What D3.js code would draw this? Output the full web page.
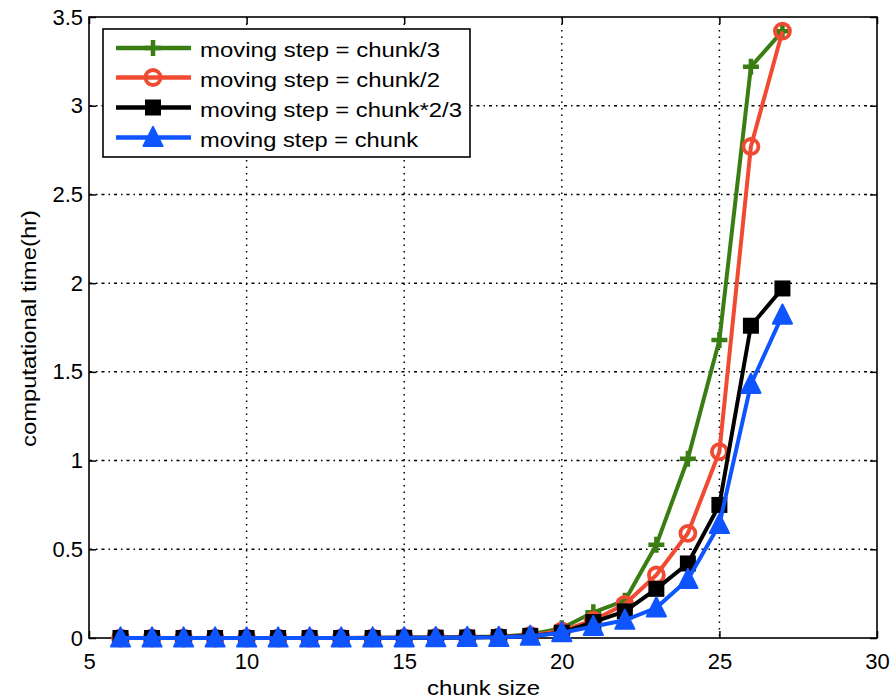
<!DOCTYPE html>
<html>
<head>
<meta charset="utf-8">
<script src="https://cdn.jsdelivr.net/npm/d3@7"></script>
<style>
  html, body { margin: 0; padding: 0; background: #fff; }
  svg { display: block; }
  text { font-family: "Liberation Sans", Arial, sans-serif; fill: #000; }
</style>
</head>
<body>
<svg id="chart" width="893" height="699"></svg>
<script>
// chunk sizes on the x axis
const chunkSizes = [6, 7, 8, 9, 10, 11, 12, 13, 14, 15, 16, 17, 18, 19, 20, 21, 22, 23, 24, 25, 26, 27];

// computational time (hr) per moving-step setting
const stepThird    = [0, 0, 0, 0, 0, 0, 0, 0, 0.001, 0.002, 0.003, 0.005, 0.008, 0.02, 0.055, 0.145, 0.21, 0.525, 1.01, 1.68, 3.22, 3.42];
const stepHalf     = [0, 0, 0, 0, 0, 0, 0, 0, 0.001, 0.002, 0.003, 0.004, 0.006, 0.015, 0.04, 0.1, 0.19, 0.355, 0.59, 1.05, 2.77, 3.42];
const stepTwoThird = [0, 0, 0, 0, 0, 0, 0, 0, 0, 0.001, 0.002, 0.003, 0.005, 0.012, 0.03, 0.09, 0.15, 0.277, 0.42, 0.75, 1.76, 1.97];
const stepFull     = [0, 0, 0, 0, 0, 0, 0, 0, 0, 0.001, 0.002, 0.003, 0.004, 0.01, 0.03, 0.065, 0.1, 0.17, 0.33, 0.64, 1.43, 1.82];

const seriesNames  = ["moving step = chunk/3", "moving step = chunk/2", "moving step = chunk*2/3", "moving step = chunk"];
const seriesColors = ["#3a7d12", "#f04b32", "#000000", "#0f55ff"];
const seriesMarkers = ["plus", "circle", "square", "triangle"];

const xTicks = [5, 10, 15, 20, 25, 30];
const yTicks = [0, 0.5, 1, 1.5, 2, 2.5, 3, 3.5];
const xTickLabels = ["5", "10", "15", "20", "25", "30"];
const yTickLabels = ["0", "0.5", "1", "1.5", "2", "2.5", "3", "3.5"];

const seriesValues = [stepThird, stepHalf, stepTwoThird, stepFull];

const svg = d3.select("#chart");
const L = 89, R = 877, T = 17, B = 638;

const x = d3.scaleLinear().domain([5, 30]).range([L, R]);
const y = d3.scaleLinear().domain([0, 3.5]).range([B, T]);

// dotted grid
const grid = svg.append("g");
grid.selectAll("line.gx").data(xTicks.slice(1, -1)).join("line")
  .attr("x1", d => x(d)).attr("x2", d => x(d))
  .attr("y1", T).attr("y2", B)
  .attr("stroke", "#000").attr("stroke-width", 1.5)
  .attr("stroke-dasharray", "1.5,5");
grid.selectAll("line.gy").data(yTicks.slice(1, -1)).join("line")
  .attr("x1", L).attr("x2", R)
  .attr("y1", d => y(d)).attr("y2", d => y(d))
  .attr("stroke", "#000").attr("stroke-width", 1.5)
  .attr("stroke-dasharray", "3,4,1.5,4");

// axes with inward ticks on all four sides
const tickLen = 7;
svg.append("g").attr("transform", `translate(0,${B})`)
  .call(d3.axisBottom(x).tickValues(xTicks).tickFormat((d, i) => xTickLabels[i]).tickSizeInner(-tickLen).tickSizeOuter(0).tickPadding(15))
  .call(g => g.select(".domain").remove());
svg.append("g").attr("transform", `translate(0,${T})`)
  .call(d3.axisTop(x).tickValues(xTicks).tickFormat("").tickSizeInner(-tickLen).tickSizeOuter(0))
  .call(g => g.select(".domain").remove());
svg.append("g").attr("transform", `translate(${L},0)`)
  .call(d3.axisLeft(y).tickValues(yTicks).tickFormat((d, i) => yTickLabels[i]).tickSizeInner(-tickLen).tickSizeOuter(0).tickPadding(6))
  .call(g => g.select(".domain").remove());
svg.append("g").attr("transform", `translate(${R},0)`)
  .call(d3.axisRight(y).tickValues(yTicks).tickFormat("").tickSizeInner(-tickLen).tickSizeOuter(0))
  .call(g => g.select(".domain").remove());

svg.selectAll(".tick line").attr("stroke", "#000").attr("stroke-width", 1.5);
svg.selectAll(".tick text").attr("font-size", 22).attr("font-family", "Liberation Sans, Arial, sans-serif").attr("fill", "#000");

// plot frame
svg.append("rect").attr("x", L).attr("y", T).attr("width", R - L).attr("height", B - T)
  .attr("fill", "none").attr("stroke", "#000").attr("stroke-width", 1.6);

// axis titles
svg.append("text").attr("x", 427).attr("y", 695)
  .attr("font-size", 21).attr("textLength", 113).attr("lengthAdjust", "spacingAndGlyphs")
  .text("chunk size");
svg.append("text").attr("transform", `translate(36,447) rotate(-90)`)
  .attr("font-size", 21).attr("textLength", 237).attr("lengthAdjust", "spacingAndGlyphs")
  .text("computational time(hr)");

// marker drawing
function drawMarker(g, type, color, size) {
  if (type === "plus") {
    g.append("path").attr("d", `M${-size / 2},0H${size / 2}M0,${-size / 2}V${size / 2}`)
      .attr("stroke", color).attr("stroke-width", 4.5).attr("fill", "none");
  } else if (type === "circle") {
    g.append("circle").attr("r", size / 2 - 0.5).attr("fill", "none")
      .attr("stroke", color).attr("stroke-width", 3.8);
  } else if (type === "square") {
    g.append("rect").attr("x", -size / 2 + 1).attr("y", -size / 2 + 1)
      .attr("width", size - 2).attr("height", size - 2)
      .attr("fill", color).attr("stroke", color).attr("stroke-width", 2);
  } else if (type === "triangle") {
    const h = size * 0.6;
    g.append("path").attr("d", `M0,${-h - 1}L${h},${h - 1}L${-h},${h - 1}Z`)
      .attr("fill", color).attr("stroke", color).attr("stroke-width", 2).attr("stroke-linejoin", "round");
  }
}

const line = d3.line().x(d => x(d[0])).y(d => y(d[1]));

seriesValues.forEach((vals, si) => {
  const pts = chunkSizes.map((c, i) => [c, vals[i]]);
  const g = svg.append("g");
  g.append("path").datum(pts).attr("d", line)
    .attr("fill", "none").attr("stroke", seriesColors[si]).attr("stroke-width", 4)
    .attr("stroke-linejoin", "round");
  pts.forEach(p => {
    const mg = g.append("g").attr("transform", `translate(${x(p[0])},${y(p[1])})`);
    drawMarker(mg, seriesMarkers[si], seriesColors[si], 16);
  });
});

// legend
const legendTextWidths = [240, 240, 262, 218];
const lg = svg.append("g");
lg.append("rect").attr("x", 103).attr("y", 29).attr("width", 367).attr("height", 128)
  .attr("fill", "#fff").attr("stroke", "#000").attr("stroke-width", 1.6);
const rowY = [48, 77.5, 107.5, 137.5];
seriesNames.forEach((name, i) => {
  const ry = rowY[i];
  lg.append("line").attr("x1", 116).attr("x2", 191).attr("y1", ry).attr("y2", ry)
    .attr("stroke", seriesColors[i]).attr("stroke-width", 4.5);
  const mg = lg.append("g").attr("transform", `translate(153,${ry})`);
  drawMarker(mg, seriesMarkers[i], seriesColors[i], 16);
  lg.append("text").attr("x", 200).attr("y", ry + 9).attr("font-size", 21)
    .attr("textLength", legendTextWidths[i]).attr("lengthAdjust", "spacingAndGlyphs")
    .text(name);
});
</script>
</body>
</html>
